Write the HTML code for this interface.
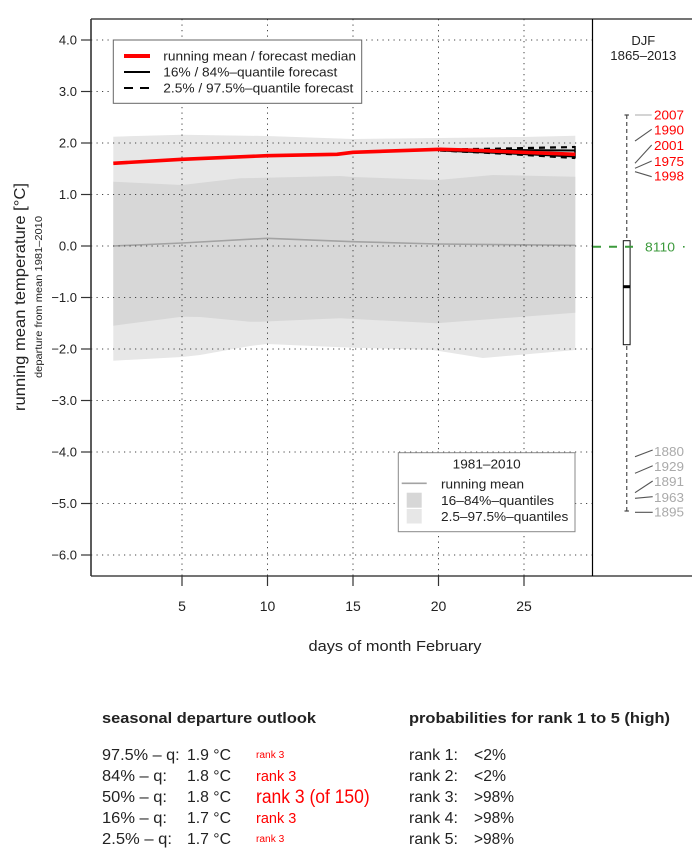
<!DOCTYPE html>
<html><head><meta charset="utf-8"><style>
html,body{margin:0;padding:0;background:#fff;}
svg{display:block;font-family:"Liberation Sans",Arial,sans-serif;}
</style></head><body>
<svg width="692" height="851" viewBox="0 0 692 851" xmlns="http://www.w3.org/2000/svg">
<rect width="692" height="851" fill="#fff"/>
<!-- bands -->
<polygon fill="#e7e7e7" points="113.3,136.7 182,134.7 267,136 353,139 440,138 523,137 575.3,135.7 575.3,350 483,358 433,350 353,347.7 267,344 250,346 200,355 182,357 113.3,360.7"/>
<polygon fill="#d7d7d7" points="113.3,181.7 182,185 240,178.3 340,176 353,177 438,180 493,175 575.3,176.7 575.3,312.7 436,323.3 340,318.3 260,321.7 250,321.7 200,317 182,316.7 113.3,325.7"/>
<polyline fill="none" stroke="#a3a3a3" stroke-width="1.6" points="113.3,246 182,243 267,238.3 353,241.7 438,244 575.3,245.3"/>
<!-- grid -->
<g stroke="#444" stroke-width="1" stroke-dasharray="1.2 4.3" fill="none">
<line x1="91" y1="40" x2="592" y2="40"/>
<line x1="91" y1="91.5" x2="592" y2="91.5"/>
<line x1="91" y1="143" x2="592" y2="143"/>
<line x1="91" y1="194.5" x2="592" y2="194.5"/>
<line x1="91" y1="246" x2="592" y2="246"/>
<line x1="91" y1="297.5" x2="592" y2="297.5"/>
<line x1="91" y1="349" x2="592" y2="349"/>
<line x1="91" y1="400.5" x2="592" y2="400.5"/>
<line x1="91" y1="452" x2="592" y2="452"/>
<line x1="91" y1="503.5" x2="592" y2="503.5"/>
<line x1="91" y1="555" x2="592" y2="555"/>
<line x1="182" y1="19" x2="182" y2="576"/>
<line x1="267.5" y1="19" x2="267.5" y2="576"/>
<line x1="353" y1="19" x2="353" y2="576"/>
<line x1="438.5" y1="19" x2="438.5" y2="576"/>
<line x1="524" y1="19" x2="524" y2="576"/>
</g>
<!-- forecast quantile lines -->
<g fill="none" stroke="#000">
<polyline stroke-width="2.2" stroke-dasharray="6 5" points="440,149.5 500,148.6 575,147"/>
<polyline stroke-width="2.2" stroke-dasharray="6 5" points="440,150.5 500,153.5 575,158"/>
<polyline stroke-width="2" points="440,149.5 500,150 575,150.5"/>
<polyline stroke-width="2" points="440,150.5 500,153 575,156.5"/>
<line x1="575" y1="146" x2="575" y2="158.5" stroke-width="1.5"/>
</g>
<polyline fill="none" stroke="#ff0000" stroke-width="3.6" stroke-linejoin="round" points="113.3,163.3 182,159.3 267,155.7 337,154.3 353,152.3 440,149.3 467,150 523,152.3 575.3,154.3"/>
<!-- legend top -->
<rect x="113.3" y="40" width="248.4" height="63.3" fill="#fff" stroke="#666" stroke-width="1"/>
<line x1="124" y1="56" x2="150" y2="56" stroke="#ff0000" stroke-width="4"/>
<line x1="124" y1="72" x2="150" y2="72" stroke="#000" stroke-width="2"/>
<line x1="124" y1="88" x2="150" y2="88" stroke="#000" stroke-width="2" stroke-dasharray="9 7"/>
<g font-size="13" fill="#222">
<text x="163.3" y="60.5" textLength="192.7" lengthAdjust="spacingAndGlyphs">running mean / forecast median</text>
<text x="163.3" y="76.5" textLength="174" lengthAdjust="spacingAndGlyphs">16% / 84%–quantile forecast</text>
<text x="163.3" y="92.5" textLength="190" lengthAdjust="spacingAndGlyphs">2.5% / 97.5%–quantile forecast</text>
</g>
<!-- legend bottom -->
<rect x="398.3" y="452.7" width="176.7" height="79" fill="#fff" stroke="#888" stroke-width="1"/>
<g font-size="13" fill="#222">
<text x="486.7" y="468.5" text-anchor="middle" textLength="68" lengthAdjust="spacingAndGlyphs">1981–2010</text>
<text x="441" y="488.5" textLength="83" lengthAdjust="spacingAndGlyphs">running mean</text>
<text x="441" y="505" textLength="113" lengthAdjust="spacingAndGlyphs">16–84%–quantiles</text>
<text x="441" y="521" textLength="127.3" lengthAdjust="spacingAndGlyphs">2.5–97.5%–quantiles</text>
</g>
<line x1="401.7" y1="483.3" x2="426.7" y2="483.3" stroke="#a3a3a3" stroke-width="1.6"/>
<rect x="406.7" y="492.7" width="15" height="15" fill="#d7d7d7"/>
<rect x="406.7" y="509" width="15" height="14.5" fill="#e7e7e7"/>
<!-- frame -->
<g stroke="#222" fill="none">
<line x1="91" y1="19" x2="692" y2="19" stroke-width="1.2"/>
<line x1="91" y1="576" x2="692" y2="576" stroke-width="1.2"/>
<line x1="91" y1="19" x2="91" y2="576" stroke-width="1.6" stroke="#333"/>
<line x1="592.5" y1="19" x2="592.5" y2="576" stroke-width="1.2" stroke="#000"/>
</g>
<!-- y ticks -->
<g stroke="#333" stroke-width="1.2">
<line x1="81" y1="40" x2="91" y2="40"/><line x1="81" y1="91.5" x2="91" y2="91.5"/>
<line x1="81" y1="143" x2="91" y2="143"/><line x1="81" y1="194.5" x2="91" y2="194.5"/>
<line x1="81" y1="246" x2="91" y2="246"/><line x1="81" y1="297.5" x2="91" y2="297.5"/>
<line x1="81" y1="349" x2="91" y2="349"/><line x1="81" y1="400.5" x2="91" y2="400.5"/>
<line x1="81" y1="452" x2="91" y2="452"/><line x1="81" y1="503.5" x2="91" y2="503.5"/>
<line x1="81" y1="555" x2="91" y2="555"/>
<line x1="182" y1="576" x2="182" y2="586"/><line x1="267.5" y1="576" x2="267.5" y2="586"/>
<line x1="353" y1="576" x2="353" y2="586"/><line x1="438.5" y1="576" x2="438.5" y2="586"/>
<line x1="524" y1="576" x2="524" y2="586"/>
</g>
<g font-size="13" fill="#222" text-anchor="end">
<text x="77" y="44.5">4.0</text><text x="77" y="96">3.0</text><text x="77" y="147.5">2.0</text>
<text x="77" y="199">1.0</text><text x="77" y="250.5">0.0</text><text x="77" y="302">−1.0</text>
<text x="77" y="353.5">−2.0</text><text x="77" y="405">−3.0</text><text x="77" y="456.5">−4.0</text>
<text x="77" y="508">−5.0</text><text x="77" y="559.5">−6.0</text>
</g>
<g font-size="14" fill="#222" text-anchor="middle">
<text x="182" y="611">5</text><text x="267.5" y="611">10</text><text x="353" y="611">15</text>
<text x="438.5" y="611">20</text><text x="524" y="611">25</text>
<text x="395" y="651" font-size="15" textLength="173" lengthAdjust="spacingAndGlyphs">days of month February</text>
</g>
<text transform="translate(25,297) rotate(-90)" text-anchor="middle" font-size="16" fill="#222" textLength="228" lengthAdjust="spacingAndGlyphs">running mean temperature [°C]</text>
<text transform="translate(42,297) rotate(-90)" text-anchor="middle" font-size="10.5" fill="#222" textLength="162" lengthAdjust="spacingAndGlyphs">departure from mean 1981–2010</text>
<!-- right panel -->
<g font-size="13" fill="#222" text-anchor="middle">
<text x="643.3" y="45">DJF</text>
<text x="643.3" y="60" textLength="66" lengthAdjust="spacingAndGlyphs">1865–2013</text>
</g>
<line x1="626.7" y1="115" x2="626.7" y2="511" stroke="#666" stroke-width="1.4" stroke-dasharray="4 3"/>
<line x1="624.5" y1="115" x2="628.9" y2="115" stroke="#444" stroke-width="1.2"/>
<line x1="624.5" y1="511" x2="628.9" y2="511" stroke="#444" stroke-width="1.2"/>
<rect x="623.3" y="240.7" width="6.8" height="104" fill="#fff" stroke="#111" stroke-width="1"/>
<line x1="623.3" y1="286.7" x2="630.1" y2="286.7" stroke="#000" stroke-width="3"/>
<line x1="593" y1="246.7" x2="635" y2="246.7" stroke="#3c9a3c" stroke-width="2" stroke-dasharray="8 8"/>
<rect x="683" y="246" width="1.6" height="1.6" fill="#3c9a3c"/>
<text x="645" y="251.5" font-size="13" fill="#3c9a3c" textLength="30" lengthAdjust="spacingAndGlyphs">8110</text>
<g stroke-width="1.1" fill="none">
<line x1="635" y1="115" x2="651.7" y2="115" stroke="#aaa"/>
<line x1="635" y1="141" x2="651.7" y2="129.3" stroke="#555"/>
<line x1="635" y1="163.3" x2="651.7" y2="145" stroke="#555"/>
<line x1="635" y1="168.3" x2="651.7" y2="161" stroke="#555"/>
<line x1="635" y1="171.7" x2="651.7" y2="176.7" stroke="#555"/>
<line x1="635" y1="456.7" x2="652.7" y2="450" stroke="#555"/>
<line x1="635" y1="473.3" x2="652.7" y2="465.7" stroke="#555"/>
<line x1="635" y1="492.7" x2="652.7" y2="481" stroke="#555"/>
<line x1="635" y1="498.3" x2="652.7" y2="496.7" stroke="#555"/>
<line x1="635" y1="512.3" x2="652.7" y2="512.3" stroke="#555"/>
</g>
<g font-size="13" fill="#ff0000">
<text x="654" y="119.5" textLength="30" lengthAdjust="spacingAndGlyphs">2007</text>
<text x="654" y="134.5" textLength="30" lengthAdjust="spacingAndGlyphs">1990</text>
<text x="654" y="150" textLength="30" lengthAdjust="spacingAndGlyphs">2001</text>
<text x="654" y="166" textLength="30" lengthAdjust="spacingAndGlyphs">1975</text>
<text x="654" y="180.5" textLength="30" lengthAdjust="spacingAndGlyphs">1998</text>
</g>
<g font-size="13" fill="#aaa">
<text x="654" y="456" textLength="30" lengthAdjust="spacingAndGlyphs">1880</text>
<text x="654" y="471" textLength="30" lengthAdjust="spacingAndGlyphs">1929</text>
<text x="654" y="486" textLength="30" lengthAdjust="spacingAndGlyphs">1891</text>
<text x="654" y="502" textLength="30" lengthAdjust="spacingAndGlyphs">1963</text>
<text x="654" y="516.5" textLength="30" lengthAdjust="spacingAndGlyphs">1895</text>
</g>
<!-- bottom text -->
<g fill="#222">
<text x="102" y="723" font-size="15" font-weight="bold" textLength="214" lengthAdjust="spacingAndGlyphs">seasonal departure outlook</text>
<text x="409" y="723" font-size="15" font-weight="bold" textLength="261" lengthAdjust="spacingAndGlyphs">probabilities for rank 1 to 5 (high)</text>
<g font-size="16">
<text x="102" y="760" textLength="77.7" lengthAdjust="spacingAndGlyphs">97.5% – q:</text>
<text x="102" y="781" textLength="65" lengthAdjust="spacingAndGlyphs">84% – q:</text>
<text x="102" y="802" textLength="65" lengthAdjust="spacingAndGlyphs">50% – q:</text>
<text x="102" y="823" textLength="65" lengthAdjust="spacingAndGlyphs">16% – q:</text>
<text x="102" y="844" textLength="70" lengthAdjust="spacingAndGlyphs">2.5% – q:</text>
<text x="187" y="760" textLength="44" lengthAdjust="spacingAndGlyphs">1.9 °C</text>
<text x="187" y="781" textLength="44" lengthAdjust="spacingAndGlyphs">1.8 °C</text>
<text x="187" y="802" textLength="44" lengthAdjust="spacingAndGlyphs">1.8 °C</text>
<text x="187" y="823" textLength="44" lengthAdjust="spacingAndGlyphs">1.7 °C</text>
<text x="187" y="844" textLength="44" lengthAdjust="spacingAndGlyphs">1.7 °C</text>
<text x="409" y="760" textLength="49" lengthAdjust="spacingAndGlyphs">rank 1:</text>
<text x="409" y="781" textLength="49" lengthAdjust="spacingAndGlyphs">rank 2:</text>
<text x="409" y="802" textLength="49" lengthAdjust="spacingAndGlyphs">rank 3:</text>
<text x="409" y="823" textLength="49" lengthAdjust="spacingAndGlyphs">rank 4:</text>
<text x="409" y="844" textLength="49" lengthAdjust="spacingAndGlyphs">rank 5:</text>
<text x="474" y="760" textLength="32" lengthAdjust="spacingAndGlyphs">&lt;2%</text>
<text x="474" y="781" textLength="32" lengthAdjust="spacingAndGlyphs">&lt;2%</text>
<text x="474" y="802" textLength="40" lengthAdjust="spacingAndGlyphs">&gt;98%</text>
<text x="474" y="823" textLength="40" lengthAdjust="spacingAndGlyphs">&gt;98%</text>
<text x="474" y="844" textLength="40" lengthAdjust="spacingAndGlyphs">&gt;98%</text>
</g>
</g>
<g fill="#ff0000">
<text x="256" y="758" font-size="10" textLength="28.3" lengthAdjust="spacingAndGlyphs">rank 3</text>
<text x="256" y="781" font-size="15" textLength="40.3" lengthAdjust="spacingAndGlyphs">rank 3</text>
<text x="256" y="803" font-size="19" textLength="113.7" lengthAdjust="spacingAndGlyphs">rank 3 (of 150)</text>
<text x="256" y="823" font-size="15" textLength="40.3" lengthAdjust="spacingAndGlyphs">rank 3</text>
<text x="256" y="842" font-size="10" textLength="28.3" lengthAdjust="spacingAndGlyphs">rank 3</text>
</g>
</svg>
</body></html>
